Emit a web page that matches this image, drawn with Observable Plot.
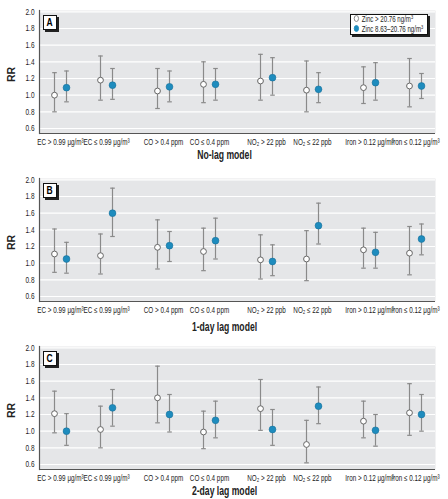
<!DOCTYPE html>
<html>
<head>
<meta charset="utf-8">
<script src="https://cdn.jsdelivr.net/npm/d3@7"></script>
<script src="https://cdn.jsdelivr.net/npm/@observablehq/plot@0.6"></script>
<style>
  html, body { margin: 0; padding: 0; background: #fff; }
  body { font-family: "Liberation Sans", Arial, sans-serif; }
  .panel { position: relative; width: 448px; }
  .panel svg { display: block; }
  .letter { position: absolute; left: 43px; top: 15px; width: 12px; height: 13px; border: 1px solid #111; background: #fff;
            box-shadow: 2px 2px 0 #222; font: bold 10px "Liberation Sans", Arial, sans-serif; text-align: center; line-height: 13px; }
  .letter span { display: inline-block; transform: scaleX(0.85); }
  .legend { position: absolute; left: 350px; top: 14px; width: 76px; height: 19px; border: 1px solid #111; background: #fff;
            box-shadow: 2px 2px 0 #222; color: #222; overflow: hidden; }
  .legend .inner { transform: scaleX(0.72); transform-origin: 0 0; white-space: nowrap; font-size: 8.5px; line-height: 9.5px; padding: 0 0 0 4px; }
  .legend .sw { display: inline-block; width: 5px; height: 5px; border-radius: 50%; margin-right: 4px; vertical-align: 0px; }
  .legend sup { font-size: 5.5px; vertical-align: 3px; line-height: 0; }
</style>
</head>
<body>
<div id="chart"></div>
<script>
// ---- data ----
const pollutants = ["EC", "CO", "NO2", "Iron"];
const levels = ["high", "low"];
const categoryLabels = ["EC > 0.99 μg/m³", "EC ≤ 0.99 μg/m³", "CO > 0.4 ppm", "CO ≤ 0.4 ppm",
  "NO₂ > 22 ppb", "NO₂ ≤ 22 ppb", "Iron > 0.12 μg/m³", "Iron ≤ 0.12 μg/m³"];
const seriesNames = ["Zinc > 20.76 ng/m³", "Zinc 8.63–20.76 ng/m³"];
const panelLetters = ["A", "B", "C"];
const modelNames = ["No-lag model", "1-day lag model", "2-day lag model"];
const yTicks = [0.6, 0.8, 1.0, 1.2, 1.4, 1.6, 1.8, 2.0];

// Panel A (no lag)
const rrA_high = [1.00, 1.18, 1.05, 1.13, 1.17, 1.06, 1.09, 1.11];
const loA_high = [0.80, 0.94, 0.84, 0.91, 0.94, 0.80, 0.90, 0.86];
const hiA_high = [1.27, 1.47, 1.32, 1.40, 1.49, 1.41, 1.34, 1.44];
const rrA_mid  = [1.09, 1.12, 1.10, 1.13, 1.21, 1.07, 1.15, 1.11];
const loA_mid  = [0.92, 0.95, 0.92, 0.94, 1.00, 0.91, 0.94, 0.96];
const hiA_mid  = [1.29, 1.32, 1.29, 1.32, 1.45, 1.27, 1.39, 1.26];
// Panel B (1-day lag)
const rrB_high = [1.11, 1.09, 1.19, 1.14, 1.04, 1.05, 1.16, 1.12];
const loB_high = [0.89, 0.87, 0.93, 0.91, 0.81, 0.79, 0.94, 0.86];
const hiB_high = [1.41, 1.35, 1.52, 1.42, 1.34, 1.39, 1.42, 1.44];
const rrB_mid  = [1.05, 1.60, 1.21, 1.27, 1.02, 1.45, 1.13, 1.29];
const loB_mid  = [0.88, 1.32, 1.02, 1.05, 0.85, 1.23, 0.94, 1.10];
const hiB_mid  = [1.25, 1.90, 1.38, 1.54, 1.22, 1.72, 1.37, 1.47];
// Panel C (2-day lag)
const rrC_high = [1.21, 1.02, 1.40, 0.99, 1.27, 0.84, 1.12, 1.22];
const loC_high = [0.98, 0.80, 1.10, 0.79, 1.01, 0.62, 0.92, 0.95];
const hiC_high = [1.48, 1.30, 1.78, 1.24, 1.62, 1.13, 1.36, 1.57];
const rrC_mid  = [1.00, 1.28, 1.20, 1.13, 1.02, 1.30, 1.01, 1.20];
const loC_mid  = [0.83, 1.06, 0.99, 0.92, 0.83, 1.09, 0.82, 1.00];
const hiC_mid  = [1.21, 1.50, 1.44, 1.36, 1.26, 1.53, 1.20, 1.44];

const panelData = [
  [[rrA_high, loA_high, hiA_high], [rrA_mid, loA_mid, hiA_mid]],
  [[rrB_high, loB_high, hiB_high], [rrB_mid, loB_mid, hiB_mid]],
  [[rrC_high, loC_high, hiC_high], [rrC_mid, loC_mid, hiC_mid]]
];

// ---- style ----
const FONT = '"Liberation Sans", Arial, sans-serif';
const SQUEEZE = 0.72;
const TEAL = "#1e8cbe";
const BG = "#e5e6e8";
const BAR = "#8a8a8a";
const capSymbol = { draw(ctx, size) { const r = Math.sqrt(size / Math.PI); ctx.moveTo(-r, 0); ctx.lineTo(r, 0); } };
const levelShift = { high: -23, low: 23 };
const seriesShift = [-6, 6];

function condense(svg) {
  svg.querySelectorAll("text").forEach(t => {
    const tr = t.getAttribute("transform");
    if (tr && /rotate/.test(tr)) return;
    if (tr) t.setAttribute("transform", tr + ` scale(${SQUEEZE},1)`);
    else {
      t.style.transformBox = "fill-box";
      t.style.transformOrigin = "center";
      t.style.transform = `scaleX(${SQUEEZE})`;
    }
  });
}

function makePanel(k, height, titleDy) {
  const rows = [];
  seriesNames.forEach((s, si) => {
    const [rr, lo, hi] = panelData[k][si];
    categoryLabels.forEach((lab, i) => rows.push({
      pollutant: pollutants[Math.floor(i / 2)], level: levels[i % 2], si, label: lab,
      rr: rr[i], lo: lo[i], hi: hi[i]
    }));
  });
  const marks = [
    Plot.frame({ fill: BG }),
    Plot.gridY(yTicks, { stroke: "#fff", strokeOpacity: 1, strokeWidth: 1.2 }),
    Plot.axisY(yTicks, { tickSize: 0, tickPadding: 5, tickFormat: d3.format(".1f"), fontSize: 9,
      label: null }),
    Plot.text(["RR"], { frameAnchor: "left", dx: -28, dy: 10, rotate: -90, fontWeight: "bold", fontSize: 10.5, fill: "#222" }),
    Plot.ruleY([0.54], { stroke: "#555", strokeWidth: 1.2 }),
    Plot.frame({ anchor: "left", stroke: "#555", strokeWidth: 1.2 })
  ];
  for (const level of levels) {
    const labs = rows.filter(d => d.si === 0 && d.level === level);
    marks.push(Plot.text(labs, { x: "pollutant", text: "label", frameAnchor: "bottom", lineAnchor: "middle",
      dy: 9, dx: levelShift[level], fontSize: 8.8, fill: "#222" }));
    for (let si = 0; si < 2; si++) {
      const sub = rows.filter(d => d.si === si && d.level === level);
      const dx = levelShift[level] + seriesShift[si];
      marks.push(
        Plot.ruleX(sub, { x: "pollutant", y1: "lo", y2: "hi", dx, stroke: BAR, strokeWidth: 1.2 }),
        Plot.dot(sub, { x: "pollutant", y: "hi", dx, symbol: capSymbol, r: 2.3, fill: "none", stroke: BAR, strokeWidth: 1.2 }),
        Plot.dot(sub, { x: "pollutant", y: "lo", dx, symbol: capSymbol, r: 2.3, fill: "none", stroke: BAR, strokeWidth: 1.2 }),
        Plot.dot(sub, { x: "pollutant", y: "rr", dx, r: si === 0 ? 2.9 : 3.4,
          fill: si === 0 ? "#fff" : TEAL, stroke: si === 0 ? "#666" : "#17709a", strokeWidth: si === 0 ? 1 : 0.6 })
      );
    }
  }
  marks.push(Plot.text([modelNames[k]], { frameAnchor: "bottom", lineAnchor: "middle", dy: titleDy, dx: -13, fontSize: 12,
    fontWeight: "bold", fill: "#222" }));

  const svg = Plot.plot({
    width: 448, height, marginLeft: 39, marginRight: 13, marginTop: 10, marginBottom: height - 133,
    style: { fontFamily: FONT, background: "transparent", color: "#222", overflow: "visible" },
    x: { type: "point", domain: pollutants, padding: 0.42, axis: null },
    y: { domain: [0.54, 2.016], axis: null },
    marks
  });
  condense(svg);
  const wrap = document.createElement("div");
  wrap.className = "panel";
  wrap.appendChild(svg);
  const letter = document.createElement("div");
  letter.className = "letter";
  letter.innerHTML = `<span>${panelLetters[k]}</span>`;
  wrap.appendChild(letter);
  if (k === 0) {
    const lg = document.createElement("div");
    lg.className = "legend";
    lg.innerHTML = `<div class="inner">` + seriesNames.map((s, si) =>
      `<div><span class="sw" style="background:${si === 0 ? "#fff" : TEAL};border:1px solid ${si === 0 ? "#777" : TEAL}"></span>${s.replace("ng/m³", "ng/m<sup>3</sup>")}</div>`
    ).join("") + `</div>`;
    wrap.appendChild(lg);
  }
  return wrap;
}

const root = document.getElementById("chart");
root.appendChild(makePanel(0, 168, 22));
root.appendChild(makePanel(1, 168, 26));
root.appendChild(makePanel(2, 163, 22));
</script>
</body>
</html>
